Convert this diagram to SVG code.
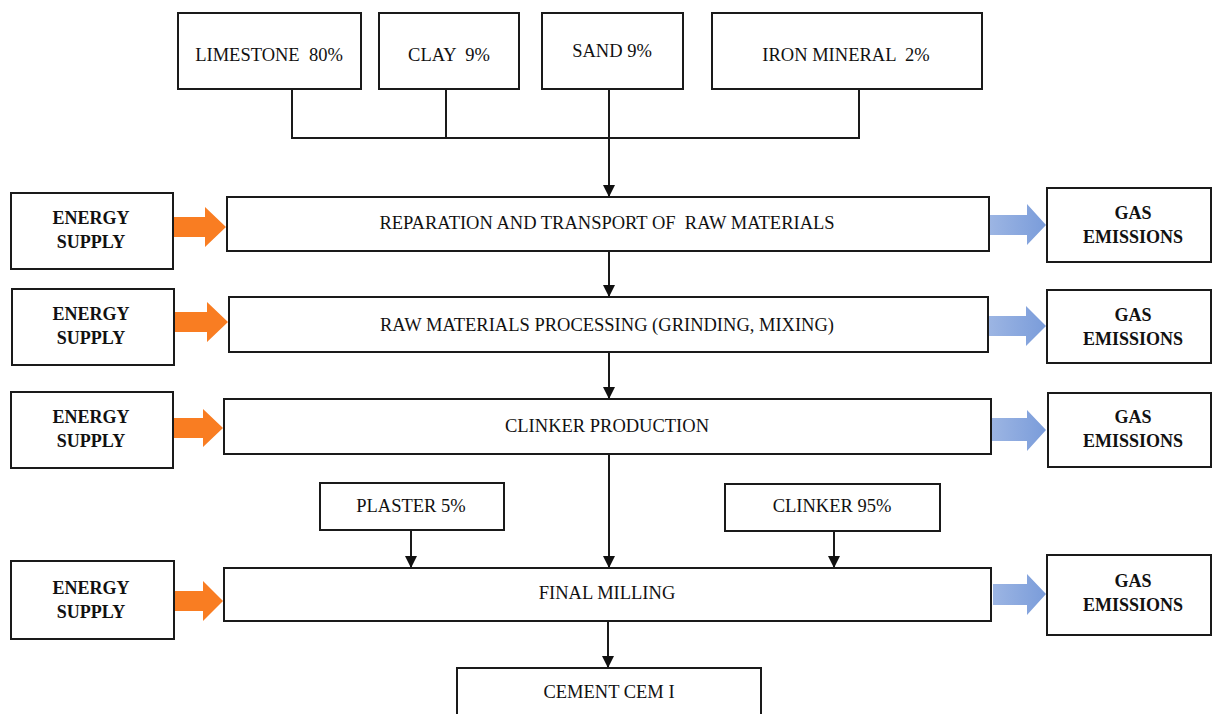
<svg xmlns="http://www.w3.org/2000/svg" width="1213" height="714" viewBox="0 0 1213 714">
<style>
  .box { fill: #fff; stroke: #1a1a1a; stroke-width: 2; }
  .t { font-family: "Liberation Serif", "Times New Roman", serif; font-size: 18.5px; fill: #111; text-anchor: middle; white-space: pre; }
  .b { font-family: "Liberation Serif", "Times New Roman", serif; font-size: 18px; font-weight: bold; fill: #111; text-anchor: middle; }
  .ln { fill: none; stroke: #1a1a1a; stroke-width: 2; }
  .orange { fill: #F97D22; }
  .blue { fill: url(#bg); }
</style>
<defs>
  <marker id="ah" markerWidth="12" markerHeight="12" refX="11" refY="6" orient="auto" markerUnits="userSpaceOnUse" viewBox="0 0 12 12">
    <path d="M0,0 L12,6 L0,12 Z" fill="#111"/>
  </marker>
  <linearGradient id="bg" x1="0" y1="0" x2="1" y2="0">
    <stop offset="0" stop-color="#9CB5E3"/>
    <stop offset="1" stop-color="#7A9CDA"/>
  </linearGradient>
</defs>
<rect width="1213" height="714" fill="#fff"/>

<g id="connectors">
  <path class="ln" d="M292,89 V138 H859 V89"/>
  <path class="ln" d="M446,89 V138"/>
  <path class="ln" d="M609,89 V196" marker-end="url(#ah)"/>
  <path class="ln" d="M609,251 V296" marker-end="url(#ah)"/>
  <path class="ln" d="M609,352 V398" marker-end="url(#ah)"/>
  <path class="ln" d="M609,454 V567" marker-end="url(#ah)"/>
  <path class="ln" d="M411,530 V567" marker-end="url(#ah)"/>
  <path class="ln" d="M834,531 V567" marker-end="url(#ah)"/>
  <path class="ln" d="M608,621 V667" marker-end="url(#ah)"/>
  <!-- energy arrows -->
  <polygon class="orange" points="162,217 205,217 205,207 226,227 205,247 205,237 162,237"/>
  <polygon class="orange" points="162,312 207,312 207,302 228,322 207,342 207,332 162,332"/>
  <polygon class="orange" points="162,418 203,418 203,409 223,428 203,447 203,438 162,438"/>
  <polygon class="orange" points="159,591 203,591 203,581 223,601 203,621 203,611 159,611"/>
  <!-- gas arrows -->
  <polygon class="blue" points="990,215 1027,215 1027,204 1046,225 1027,245 1027,235 990,235"/>
  <polygon class="blue" points="989,316 1026,316 1026,306 1046,326 1026,346 1026,336 989,336"/>
  <polygon class="blue" points="992,418 1027,418 1027,410 1046,430 1027,451 1027,441 992,441"/>
  <polygon class="blue" points="993,584 1027,584 1027,574 1046,594 1027,615 1027,605 993,605"/>
</g>

<g id="limestone"><rect class="box" x="178" y="13" width="183" height="76"/><text class="t" x="269" y="61">LIMESTONE  80%</text></g>
<g id="clay"><rect class="box" x="379" y="13" width="140" height="76"/><text class="t" x="449" y="61">CLAY  9%</text></g>
<g id="sand"><rect class="box" x="542" y="13" width="141" height="76"/><text class="t" x="612" y="57">SAND 9%</text></g>
<g id="iron"><rect class="box" x="712" y="13" width="270" height="76"/><text class="t" x="846" y="61">IRON MINERAL  2%</text></g>

<g id="step1"><rect class="box" x="227" y="197" width="762" height="54"/><text class="t" x="607" y="229">REPARATION AND TRANSPORT OF  RAW MATERIALS</text></g>
<g id="step2"><rect class="box" x="229" y="297" width="759" height="55"/><text class="t" x="607" y="331">RAW MATERIALS PROCESSING (GRINDING, MIXING)</text></g>
<g id="step3"><rect class="box" x="224" y="399" width="767" height="55"/><text class="t" x="607" y="432">CLINKER PRODUCTION</text></g>
<g id="step4"><rect class="box" x="224" y="568" width="767" height="53"/><text class="t" x="607" y="599">FINAL MILLING</text></g>

<g id="plaster"><rect class="box" x="320" y="483" width="184" height="47"/><text class="t" x="411" y="512">PLASTER 5%</text></g>
<g id="clinker95"><rect class="box" x="725" y="484" width="215" height="47"/><text class="t" x="832" y="512">CLINKER 95%</text></g>

<g id="cement"><rect class="box" x="457" y="668" width="304" height="60"/><text class="t" x="609" y="698">CEMENT CEM I</text></g>

<g id="energy1"><rect class="box" x="11" y="193" width="162" height="76"/><text class="b" x="91" y="224">ENERGY</text><text class="b" x="91" y="248">SUPPLY</text></g>
<g id="energy2"><rect class="box" x="12" y="289" width="162" height="76"/><text class="b" x="91" y="320">ENERGY</text><text class="b" x="91" y="344">SUPPLY</text></g>
<g id="energy3"><rect class="box" x="11" y="392" width="162" height="76"/><text class="b" x="91" y="423">ENERGY</text><text class="b" x="91" y="447">SUPPLY</text></g>
<g id="energy4"><rect class="box" x="11" y="561" width="163" height="78"/><text class="b" x="91" y="594">ENERGY</text><text class="b" x="91" y="618">SUPPLY</text></g>

<g id="gas1"><rect class="box" x="1047" y="188" width="164" height="74"/><text class="b" x="1133" y="219">GAS</text><text class="b" x="1133" y="243">EMISSIONS</text></g>
<g id="gas2"><rect class="box" x="1047" y="290" width="164" height="73"/><text class="b" x="1133" y="321">GAS</text><text class="b" x="1133" y="345">EMISSIONS</text></g>
<g id="gas3"><rect class="box" x="1048" y="393" width="163" height="74"/><text class="b" x="1133" y="423">GAS</text><text class="b" x="1133" y="447">EMISSIONS</text></g>
<g id="gas4"><rect class="box" x="1047" y="555" width="164" height="80"/><text class="b" x="1133" y="587">GAS</text><text class="b" x="1133" y="611">EMISSIONS</text></g>
</svg>
